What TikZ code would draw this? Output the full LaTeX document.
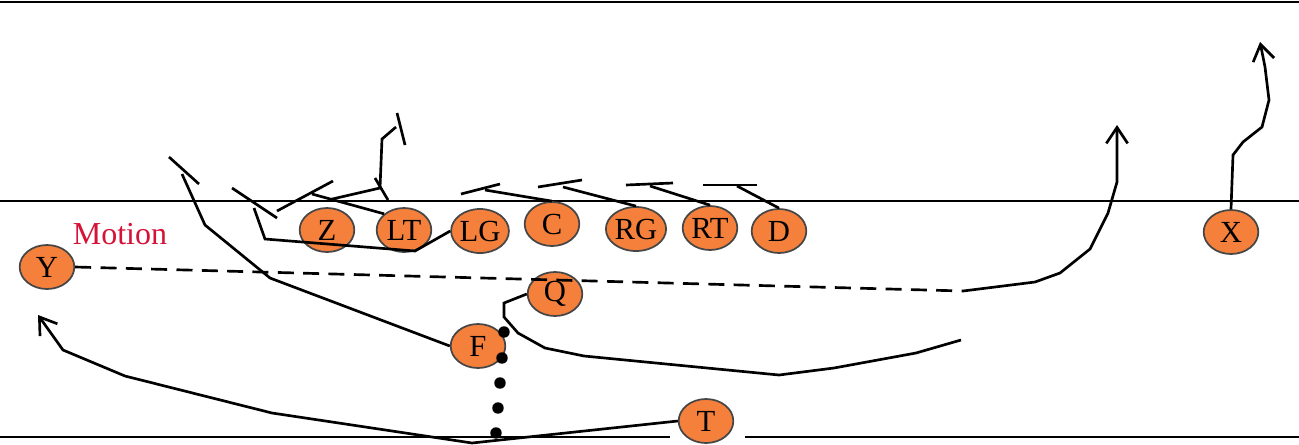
\documentclass[tikz,border=0pt]{standalone}
\usepackage{fontspec}
\setmainfont{Liberation Serif}
\usetikzlibrary{shapes.geometric,arrows.meta}

\definecolor{playerorange}{RGB}{245,128,60}
\definecolor{playerrim}{RGB}{70,70,70}
\definecolor{motionred}{RGB}{214,18,56}

\tikzset{every picture/.style={line width=2pt}}
\tikzset{
  player/.style={ellipse, draw=playerrim, line width=1.3pt, fill=playerorange,
                 minimum width=41pt, minimum height=33pt, inner sep=0pt,
                 font=\fontsize{23}{25}\selectfont},
  routetip/.style={-{Straight Barb[length=12pt,width=16pt]}},
  motion/.style={dash pattern=on 12pt off 7pt},
}

\begin{document}
\begin{tikzpicture}[x=0.75pt, y=0.75pt, yscale=-1, xscale=1]

    \useasboundingbox (0,0) rectangle (1299,444);

    % Field lines
    \draw (0,2) -- (1299,2);
    \draw (0,201) -- (1299,201);
    \draw (0,437) -- (670,437);
    \draw (745,437) -- (1299,437);

    % Players
    \node [player] (Z)  at ( 327,230) {Z};
    \node [player] (LT) at ( 404,230) {LT};
    \node [player] (LG) at ( 480,231) {LG};
    \node [player] (C)  at ( 552,224) {C};
    \node [player] (RG) at ( 636,229) {RG};
    \node [player] (RT) at ( 710,228) {RT};
    \node [player] (D)  at ( 779,231) {D};
    \node [player] (X)  at (1231,232) {X};
    \node [player] (Y)  at (  47,267) {Y};
    \node [player] (Q)  at ( 555,294) {Q};
    \node [player] (F)  at ( 478,346) {F};
    \node [player] (T)  at ( 706,421) {T};

    % Label: Motion
    \node [text=motionred, font=\fontsize{24}{26}\selectfont] (motionlbl) at (120,234) {Motion};

    % Route ends
    \coordinate (Yend)  at (1117,125);
    \coordinate (Xend)  at (1260,42);
    \coordinate (Tend)  at (38,315);
    \coordinate (Fend)  at (182,174);
    \coordinate (Qend)  at (961,340);
    \coordinate (LGend) at (254,208);
    \coordinate (LTend) at (312,194);
    \coordinate (Zend)  at (396,127);

    % Route Y - motion
    \draw [motion] (Y.east) -- (963,291);
    \draw [routetip] (963,291) -- (1035,282) -- (1060,273) -- (1090,249)
          -- (1108,213) -- (1117,182) -- (Yend);

    % Route X
    \draw [routetip] (X.north) -- (1233,155) -- (1243,142) -- (1262,127)
          -- (1269,100) -- (1265,67) -- (Xend);

    % Route T
    \draw [routetip] (T.west) -- (472,443) -- (272,413) -- (125,376)
          -- (63,350) -- (Tend);

    % Route F - block
    \draw (F.west) -- (270,278) -- (205,225) -- (Fend);
    \draw (169,157) -- (199,184);

    % Route Q
    \draw (Q.west) -- (504,303) -- (504,317) -- (518,333) -- (545,348)
          -- (584,356) -- (779,375) -- (834,368) -- (916,353) -- (Qend);

    % Route LG - block
    \draw (LG.west) -- (415,251) -- (265,239) -- (LGend);
    \draw (232,188) -- (277,218);

    % Route LT - block
    \draw (LT.north west) -- (LTend);
    \draw (277,211) -- (333,181);

    % Route Z
    \draw (328,200) -- (380,188) -- (382,139) -- (Zend);
    \draw (397,113) -- (405,145);
    \draw (375,178) -- (388,200);

    % Blocks C, RG, RT, D
    \draw (C.north) -- (485,190);
    \draw (461,194) -- (500,184);
    \draw (RG.north) -- (563,187);
    \draw (538,187) -- (582,180);
    \draw (RT.north) -- (650,186);
    \draw (626,185) -- (673,183);
    \draw (D.north) -- (737,186);
    \draw (703,185) -- (757,185);

    % Dots
    \foreach \px/\py in {504/332, 502/358, 500/383, 498/408, 496/433}
      \fill (\px,\py) circle [radius=4.3pt];

\end{tikzpicture}
\end{document}
